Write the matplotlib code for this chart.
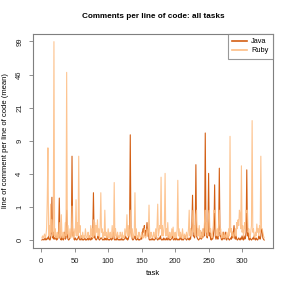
import numpy as np
import matplotlib
matplotlib.use("Agg")
import matplotlib.pyplot as plt

plt.rcParams['font.family'] = ['Liberation Sans', 'DejaVu Sans']

# mean comments per line of code, task 1..333
java = [0,0.02,0.02,0,0.02,0.05,0,0.02,0.05,0.02,0.1,0.02,0,0.05,0.2,1.7,0.05,0.2,0.02,0.05,
        0.02,0.1,0,0.02,0.05,0.2,1.65,0.05,0.02,0,0.1,0.02,0,0.05,0.2,0.02,0.05,1.0,0.1,0.02,
        0,0.02,0.05,0.1,0.2,6.0,0.1,0.2,0.02,0,0.05,0.02,0,0.02,0.05,0.1,0.02,0,0.02,0.1,
        0,0.02,0,0.02,0.05,0,0.02,0,0.02,0.05,0,0.1,0.02,0,0.05,0.02,0.2,2.0,0.05,0.1,
        0.02,0,0.02,0.05,0.1,0.02,0,0.02,0.05,0.05,0.02,0,0.02,0,0.05,0.02,0,0.1,0.02,0,
        0.02,0,0.02,0.05,0,0.02,0.05,0.2,0.02,0,0.02,0,0.1,0.02,0,0.02,0,0.02,0,0.05,
        0,0.02,0,0.02,0.05,0.1,0.02,0.05,0,0.02,0.1,0.4,10.5,0.2,0.1,0.02,0,0.02,0.05,0.1,
        0.02,0,0.02,0.05,0,0.02,0,0.02,0.05,0.02,0.15,0.3,0.2,0.4,0.1,0.25,0.2,0.5,0.1,0.3,
        0.02,0,0.02,0,0.02,0.05,0,0.02,0,0.02,0.05,0.1,0.02,0,0.02,0.05,0.02,0.1,0.02,0,
        0.02,0,0.05,0.02,0,0.02,0.05,0,0.02,0.1,0,0.02,0,0.02,0.05,0.1,0.02,0,0.02,0.05,
        0,0.05,0.02,0,0.02,0,0.05,0.02,0.1,0,0.02,0,0.02,0.05,0.1,0.02,0,0.02,0.05,0.02,
        0,0.05,0.02,0.2,0.4,1.83,0.1,0.1,0.05,0.2,4.75,0.1,0.05,0.02,0,0.02,0.05,0.1,0.02,0.2,
        0.05,0.1,0.3,0.1,11.0,0.4,0.1,0.05,0.2,3.7,0.1,0.2,0.02,0,0.05,0.02,0.1,0.3,2.6,0.1,
        0.02,0.1,0.05,0.02,0.2,4.3,0.1,0.1,0.02,0,0.05,0.2,0.02,0.05,0.2,0.02,0,0.05,0.1,0.02,
        0,0.02,0.05,0.02,0.2,0.05,0.2,0.4,0.05,0.02,0.1,0.02,0,0.02,0.05,0.02,0,0.05,0.02,0.1,
        0.02,0,0.1,0.02,0.05,0.2,4.1,0.1,0.2,0.02,0,0.05,0.02,0,0.02,0.05,0.02,0.1,0.02,0,
        0.05,0.02,0,0.02,0.1,0.05,0.02,0.1,0.3,0.25,0.05,0.02,0]

ruby = [0.05,0.1,0.05,0.1,0.15,0.05,0.1,0.3,1.5,7.5,0.1,0.4,0.1,1.3,0.2,0.6,0.1,0.15,99,0.1,
        0.3,0.05,0.1,0.2,0.05,0.1,0.5,0.1,0.05,0.8,0.1,0.05,0.2,0.1,0.05,0.5,0.1,48,0.15,0.4,
        0.05,0.1,0.3,0.05,0.1,1.2,0.1,0.05,0.3,0.1,0.2,1.55,0.1,0.5,0.1,6.0,0.2,0.4,0.05,0.1,
        0.05,0.2,0.05,0.1,0.05,0.3,0.1,0.05,0.1,0.2,0.05,0.1,0.05,0.4,0.1,0.3,0.05,0.6,0.1,0.5,
        0.1,0.4,0.2,0.6,0.1,0.3,0.05,0.4,2.0,0.2,0.3,0.05,0.2,0.1,1.0,0.1,0.2,0.05,0.1,0.3,
        0.05,0.1,0.2,0.05,0.1,0.4,0.1,0.05,2.8,0.1,0.3,0.05,0.1,0.2,0.05,0.1,0.05,0.2,0.1,0.05,
        0.2,0.05,0.1,0.05,0.3,0.1,0.2,0.8,0.1,0.4,0.1,0.2,1.0,0.1,0.05,0.3,0.1,0.05,0.2,2.0,
        0.1,0.3,0.05,0.1,0.05,0.2,0.1,0.05,0.1,0.2,0.05,0.1,0.05,0.3,0.1,0.05,0.1,0.3,0.1,0.2,
        1.25,0.1,0.05,0.2,0.1,0.05,0.1,0.2,0.05,0.1,0.3,0.05,0.4,1.3,0.1,0.2,0.4,0.3,3.3,0.1,
        0.4,0.1,0.2,0.5,3.7,0.1,0.3,0.1,0.5,0.1,0.05,0.2,0.1,0.05,0.3,0.1,0.35,0.05,0.1,0.2,
        0.05,0.1,0.3,3.0,0.1,0.3,0.05,0.2,0.1,0.05,0.3,0.1,0.05,0.15,0.05,0.1,0.2,0.05,0.1,0.3,
        1.0,0.1,0.3,0.1,0.2,0.6,1.0,0.2,0.4,0.1,0.8,1.0,0.1,0.3,0.1,0.4,0.05,0.25,0.1,0.05,
        0.3,0.1,0.2,0.6,1.0,0.2,0.5,0.1,0.3,0.8,1.0,0.2,0.3,0.1,0.05,0.2,0.4,1.0,0.9,1.0,
        0.1,0.2,0.3,0.1,0.5,1.0,0.2,0.3,0.1,0.05,0.2,0.1,0.05,0.15,0.1,0.05,0.2,0.1,0.05,0.3,
        0.1,10.1,0.2,0.3,0.1,0.2,0.05,0.1,0.2,0.3,0.1,0.5,0.3,0.6,0.4,1.0,0.8,0.3,4.6,0.2,
        0.4,0.1,0.2,0.5,0.3,1.0,0.9,1.0,0.2,0.3,0.1,0.05,0.2,0.4,15,0.2,0.3,0.1,0.05,0.2,
        0.1,0.45,0.2,0.3,0.1,0.4,0.2,6.0,0.3,0.3,0.2,0.1,0.05]

ytick_labels = ["0", "1", "4", "9", "21", "46", "99"]
xticks = [0, 50, 100, 150, 200, 250, 300]

java_col = "#D35F14"
ruby_col = "#FDBE85"
grey = "#7f7f7f"

fig = plt.figure(figsize=(2.91, 2.91), dpi=100)
ax = fig.add_axes([0.1134, 0.1478, 0.825, 0.737])

xj = np.arange(1, len(java) + 1)
xr = np.arange(1, len(ruby) + 1)
ax.plot(xj, java, color=java_col, lw=0.8, label="Java")
ax.plot(xr, ruby, color=ruby_col, lw=0.8, alpha=0.9, label="Ruby")

ax.set_yscale('function', functions=(np.log1p, np.expm1))
top = np.log1p(max(max(java), max(ruby)) + 0.4)
tpos = np.expm1(np.arange(7) * top / 6)
ax.set_yticks(tpos)
ax.set_yticklabels(ytick_labels, rotation=90, va='center')
ax.set_ylim(np.expm1(-0.04 * top), np.expm1(1.04 * top))

n = max(len(java), len(ruby))
pad = 0.04 * (n - 1)
ax.set_xlim(1 - pad, n + pad)
ax.set_xticks(xticks)

for s in ax.spines.values():
    s.set_color(grey)
    s.set_linewidth(0.8)
ax.tick_params(direction='out', length=3, width=0.6, color=grey,
               labelsize=5.5, labelcolor="#222222", pad=4)

ax.set_title("Comments per line of code: all tasks", fontsize=5.9,
             fontweight='bold', pad=11)
ax.set_xlabel("task", fontsize=5.5, labelpad=4)
ax.set_ylabel("line of comment per line of code (mean)", fontsize=5.5, labelpad=5)

leg = ax.legend(loc='upper right', fontsize=5.3, frameon=True, fancybox=False,
                borderaxespad=0, handlelength=2.0, handletextpad=0.6,
                borderpad=0.6, labelspacing=0.3)
leg.get_frame().set_edgecolor(grey)
leg.get_frame().set_linewidth(0.8)
for line in leg.get_lines():
    line.set_linewidth(1.2)
    line.set_alpha(1)

fig.savefig("out.png", dpi=100)
